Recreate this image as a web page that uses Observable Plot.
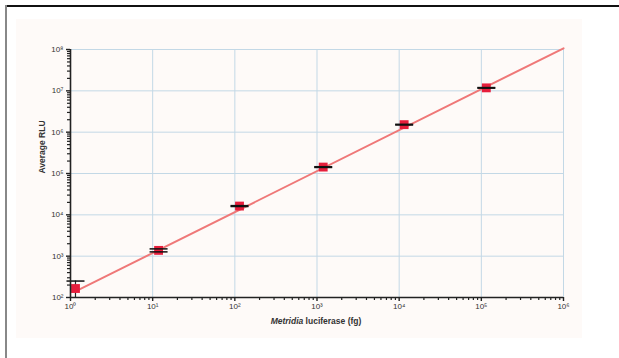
<!DOCTYPE html>
<html>
<head>
<meta charset="utf-8">
<script src="https://cdn.jsdelivr.net/npm/d3@7"></script>
<script src="https://cdn.jsdelivr.net/npm/@observablehq/plot@0.6"></script>
<style>
  html, body { margin: 0; padding: 0; background: #fff; }
  #wrap { position: relative; width: 619px; height: 358px; overflow: hidden; font-family: "Liberation Sans", Arial, sans-serif; }
  #panel { position: absolute; left: 16px; top: 19px; width: 566px; height: 319px; background: #fefaf8; }
  #frameTop { position: absolute; left: 5px; top: 5px; width: 614px; height: 1.5px; background: #111; }
  #frameLeft { position: absolute; left: 5px; top: 5px; width: 2px; height: 353px; background: #888; }
  #chart { position: absolute; left: 0; top: 0; }
  #xlabel { position: absolute; left: 0; width: 632px; top: 316px; text-align: center; font-size: 8.5px; font-weight: bold; color: #333; }
</style>
</head>
<body>
<div id="wrap">
  <div id="panel"></div>
  <div id="frameTop"></div>
  <div id="frameLeft"></div>
  <div id="chart"></div>
  <div id="xlabel"><i>Metridia</i> luciferase (fg)</div>
</div>
<script>
// Measured points (fg of Metridia luciferase vs average RLU)
const amounts = [1.15, 11.8, 114, 1190, 11500, 115000];
const rlu     = [165, 1380, 16300, 143000, 1520000, 11800000];
const rluLow  = [100, 1270, 15900, 140000, 1490000, 11600000];
const rluHigh = [250, 1500, 16700, 146000, 1550000, 12000000];

// Fitted line end points
const fitX = [1.15, 1000000];
const fitY = [140, 107000000];

// Axis ticks and labels
const xMajor = [1, 10, 100, 1000, 10000, 100000, 1000000];
const xTickLabels = ["10⁰", "10¹", "10²", "10³", "10⁴", "10⁵", "10⁶"];
const yMajor = [1e2, 1e3, 1e4, 1e5, 1e6, 1e7, 1e8];
const yTickLabels = ["10²", "10³", "10⁴", "10⁵", "10⁶", "10⁷", "10⁸"];
const yTitle = "Average RLU";

const minorOf = (majors) => {
  const out = [];
  for (let i = 0; i < majors.length - 1; i++)
    for (let k = 2; k <= 9; k++) out.push(majors[i] * k);
  return out;
};
const xMinor = minorOf(xMajor);
const yMinor = minorOf(yMajor);

const points = amounts.map((x, i) => ({x, y: rlu[i], lo: rluLow[i], hi: rluHigh[i]}));
const fit = fitX.map((x, i) => ({x, y: fitY[i]}));
const xTicks = xMajor.map((v, i) => ({v, label: xTickLabels[i]}));
const yTicks = yMajor.map((v, i) => ({v, label: yTickLabels[i]}));

const cap = { draw(ctx) { ctx.moveTo(-9, 0); ctx.lineTo(9, 0); } };

const chart = Plot.plot({
  width: 619,
  height: 358,
  marginLeft: 70,
  marginRight: 56,
  marginTop: 49,
  marginBottom: 61,
  style: { background: "transparent", color: "#444", fontFamily: "Liberation Sans, Arial, sans-serif" },
  x: { type: "log", domain: [1, 1e6], axis: null },
  y: { type: "log", domain: [1e2, 1e8], axis: null },
  marks: [
    Plot.gridX(xMajor, { stroke: "#c3d8e6", strokeOpacity: 1, strokeWidth: 1 }),
    Plot.gridY(yMajor, { stroke: "#c3d8e6", strokeOpacity: 1, strokeWidth: 1 }),
    Plot.line(fit, { x: "x", y: "y", stroke: "#ef7878", strokeWidth: 2, clip: false }),
    Plot.ruleX(points, { x: "x", y1: "lo", y2: "hi", stroke: "#222", strokeWidth: 1.2 }),
    Plot.dot(points, { x: "x", y: "y", symbol: "square", r: 5, fill: "#e61e3c", stroke: "none" }),
    Plot.dot(points, { x: "x", y: "lo", symbol: cap, r: 5, fill: "none", stroke: "#111", strokeWidth: 1.5, filter: (d) => d.lo > 100 }),
    Plot.dot(points, { x: "x", y: "hi", symbol: cap, r: 5, fill: "none", stroke: "#111", strokeWidth: 1.5 }),
    Plot.axisX(xMinor, { tickSize: 3, text: null, tickFormat: null, stroke: "#222", strokeWidth: 1.2, label: null }),
    Plot.axisX(xMajor, { tickSize: 4, text: null, tickFormat: null, stroke: "#222", strokeWidth: 1.4, label: null }),
    Plot.axisY(yMinor, { tickSize: 3, text: null, tickFormat: null, stroke: "#222", strokeWidth: 1.2, label: null }),
    Plot.axisY(yMajor, { tickSize: 4, text: null, tickFormat: null, stroke: "#222", strokeWidth: 1.4, label: null }),
    Plot.text(xTicks, { x: "v", text: "label", frameAnchor: "bottom", dy: 11, fontSize: 8, fill: "#333" }),
    Plot.text(yTicks, { y: "v", text: "label", frameAnchor: "left", dx: -7, textAnchor: "end", fontSize: 8, fill: "#333" }),
    Plot.ruleX([1], { stroke: "#222", strokeWidth: 1.6 }),
    Plot.ruleY([1e2], { stroke: "#222", strokeWidth: 1.6 }),
    Plot.text([yTitle], { frameAnchor: "left", dx: -28, rotate: -90, fontSize: 8.5, fontWeight: "bold", fill: "#333" })
  ]
});
document.getElementById("chart").appendChild(chart);
</script>
</body>
</html>
